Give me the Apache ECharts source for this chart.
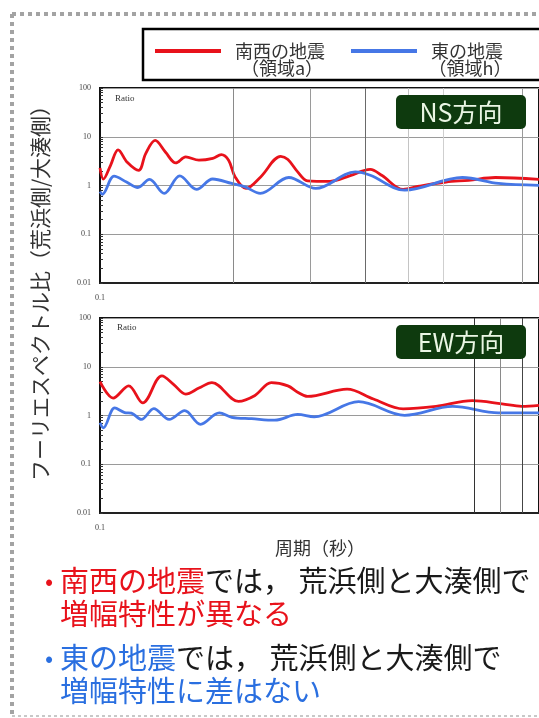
<!DOCTYPE html>
<html><head><meta charset="utf-8">
<script src="https://cdn.jsdelivr.net/npm/echarts@6/dist/echarts.min.js"></script>
<style>html,body{margin:0;padding:0;background:#fff}#c{width:539px;height:718px}</style>
</head><body><div id="c"></div>
<script>
// ---------- data ----------
const seriesNames = ['南西の地震', '東の地震'];
const legendSub = ['（領域a）', '（領域h）'];
const panelLabels = ['NS方向', 'EW方向'];
const xTickLabels = [0.1];
const yTickLabels = [0.01, 0.1, 1, 10, 100];

const nsRedPeriod = [0.1, 0.106, 0.12, 0.1366, 0.16, 0.195, 0.22, 0.259, 0.31, 0.37, 0.439, 0.551, 0.70, 0.811, 0.92, 1.03, 1.24, 1.6, 2.26, 2.56, 3.03, 3.59, 5.32, 7.5, 10.6, 13, 18.7, 24.7, 39.2, 57.9, 91.8, 195];
const nsRedRatio  = [2.3, 1.35, 2.6, 5.4, 3.0, 2.05, 4.5, 8.4, 4.8, 2.9, 3.85, 3.3, 3.6, 4.3, 3.3, 1.5, 0.87, 1.5, 3.95, 3.4, 1.9, 1.25, 1.22, 1.6, 2.15, 1.6, 0.83, 0.97, 1.18, 1.28, 1.46, 1.33];
const nsBluePeriod = [0.1, 0.104, 0.1276, 0.158, 0.192, 0.235, 0.303, 0.396, 0.529, 0.699, 0.971, 1.22, 1.59, 2.6, 4.14, 8.19, 10.6, 19.2, 52.0, 97.1, 195];
const nsBlueRatio  = [0.75, 0.66, 1.55, 1.18, 0.91, 1.33, 0.69, 1.57, 0.83, 1.36, 1.1, 0.94, 0.69, 1.46, 0.87, 1.9, 1.62, 0.8, 1.46, 1.1, 1.01];

const ewRedPeriod = [0.1, 0.1254, 0.164, 0.209, 0.291, 0.359, 0.439, 0.551, 0.69, 1.09, 1.45, 1.92, 2.56, 3.03, 3.59, 7.11, 11.2, 18.7, 33.0, 61.7, 103, 145, 195];
const ewRedRatio  = [4.97, 2.28, 4.06, 1.81, 6.47, 4.25, 2.75, 3.65, 4.73, 1.95, 2.58, 4.73, 4.06, 3.0, 2.46, 3.47, 2.18, 1.37, 1.54, 2.01, 1.73, 1.54, 1.62];
const ewBluePeriod = [0.1, 0.106, 0.129, 0.153, 0.172, 0.204, 0.253, 0.33, 0.431, 0.567, 0.784, 0.971, 1.37, 2.04, 3.03, 4.03, 8.68, 19.2, 43.9, 97.1, 195];
const ewBlueRatio  = [0.71, 0.56, 1.43, 1.15, 1.12, 0.83, 1.39, 0.83, 1.26, 0.66, 1.13, 0.92, 0.86, 0.8, 1.05, 0.94, 1.92, 1.01, 1.54, 1.13, 1.13];

const nsVLines = [1, 3.74, 9.7, 20.6, 37.4, 145];
const ewVLines = [63.8, 99.5, 146];

// ---------- styles ----------
const RED = '#e8121b', BLUE = '#4677e6', TXTBLUE = '#2a6fe0';
const nsVLineColors = ['#8a8a8a', '#9a9a9a', '#6a6a6a', '#c4c4c4', '#cfcfcf', '#9a9a9a'];
const ewVLineColors = ['#333333', '#8a8a8a', '#444444'];
const SERIF = '"Liberation Serif", "DejaVu Serif", serif';
const JP = '"Noto Sans CJK JP", sans-serif';

const pairs = (xs, ys) => xs.map((x, i) => [x, ys[i]]);
const minorTicks = [];
for (let e = -2; e < 2; e++) for (let m = 1; m <= 9; m++) minorTicks.push(+(m * Math.pow(10, e)).toPrecision(3));
minorTicks.push(100);

const grids = [
  {left: 100, right: -6, top: 88, height: 195},
  {left: 100, right: -6, top: 318, height: 195}
].map(g => Object.assign(g, {show: true, borderColor: '#111', borderWidth: 2, backgroundColor: 'transparent'}));

const xAxes = [0, 1].map(i => ({
  type: 'log', logBase: 10, gridIndex: i, min: 0.1, max: 195,
  axisLine: {show: true, lineStyle: {color: '#222', width: 2}},
  axisTick: {show: false},
  splitLine: {show: false},
  axisLabel: {customValues: xTickLabels, formatter: v => String(v), margin: 11, fontFamily: SERIF, fontSize: 8, color: '#444'}
}));
const yAxes = [];
[0, 1].forEach(i => {
  yAxes.push({
    type: 'log', logBase: 10, gridIndex: i, min: 0.01, max: 100,
    axisLine: {show: true, lineStyle: {color: '#111', width: 2}},
    axisTick: {show: false},
    splitLine: {show: true, lineStyle: {color: '#9a9a9a', width: 1}},
    axisLabel: {customValues: yTickLabels, formatter: v => String(v), margin: 9, fontFamily: SERIF, fontSize: 8, color: '#444'}
  });
  yAxes.push({
    type: 'log', logBase: 10, gridIndex: i, min: 0.01, max: 100, position: 'left',
    axisLine: {show: false},
    axisTick: {show: true, inside: true, length: 3, customValues: minorTicks, lineStyle: {color: '#333'}},
    splitLine: {show: false},
    axisLabel: {show: false}
  });
});

function vlines(vals, colors) {
  return {
    silent: true, symbol: ['none', 'none'], label: {show: false},
    lineStyle: {type: 'solid', width: 1},
    data: vals.map((v, i) => ({xAxis: v, lineStyle: {color: colors[i], type: 'solid', width: 1}}))
  };
}
const lineBase = {type: 'line', smooth: 0.35, showSymbol: false, symbol: 'none', lineStyle: {width: 2.8}};
const series = [
  Object.assign({}, lineBase, {name: seriesNames[0], xAxisIndex: 0, yAxisIndex: 0, color: RED, data: pairs(nsRedPeriod, nsRedRatio), markLine: vlines(nsVLines, nsVLineColors), z: 3}),
  Object.assign({}, lineBase, {name: seriesNames[1], xAxisIndex: 0, yAxisIndex: 0, color: BLUE, data: pairs(nsBluePeriod, nsBlueRatio), z: 4}),
  Object.assign({}, lineBase, {name: seriesNames[0], xAxisIndex: 1, yAxisIndex: 2, color: RED, data: pairs(ewRedPeriod, ewRedRatio), markLine: vlines(ewVLines, ewVLineColors), z: 3}),
  Object.assign({}, lineBase, {name: seriesNames[1], xAxisIndex: 1, yAxisIndex: 2, color: BLUE, data: pairs(ewBluePeriod, ewBlueRatio), z: 4})
];

const BF = '29px ' + JP;
const dash = {lineDash: [4, 4], lineWidth: 4, stroke: '#a3a3a3'};
const graphic = [
  {type: 'line', shape: {x1: 12, y1: 14, x2: 539, y2: 14}, style: dash, silent: true},
  {type: 'line', shape: {x1: 12, y1: 14, x2: 12, y2: 718}, style: dash, silent: true},
  {type: 'line', shape: {x1: 12, y1: 716, x2: 539, y2: 716}, style: {lineDash: [3, 3], lineWidth: 2, stroke: '#c8c8c8'}, silent: true},
  // legend frame
  {type: 'rect', shape: {x: 143, y: 29, width: 420, height: 51}, style: {fill: 'transparent', stroke: '#000', lineWidth: 2.5}, silent: true},
  {type: 'text', x: 282, y: 68, style: {text: legendSub[0], font: '18px ' + JP, fill: '#333', align: 'center', verticalAlign: 'middle'}},
  {type: 'text', x: 470, y: 68, style: {text: legendSub[1], font: '18px ' + JP, fill: '#333', align: 'center', verticalAlign: 'middle'}},
  // panel labels
  {type: 'rect', shape: {x: 396, y: 95, width: 130, height: 34, r: 5}, style: {fill: '#0e3a0e'}, z: 10},
  {type: 'text', x: 461, y: 112, style: {text: panelLabels[0], font: '25px ' + JP, fill: '#eaf6e4', align: 'center', verticalAlign: 'middle'}, z: 11},
  {type: 'rect', shape: {x: 396, y: 325, width: 130, height: 34, r: 5}, style: {fill: '#0e3a0e'}, z: 10},
  {type: 'text', x: 461, y: 342, style: {text: panelLabels[1], font: '25px ' + JP, fill: '#eaf6e4', align: 'center', verticalAlign: 'middle'}, z: 11},
  // Ratio labels
  {type: 'text', x: 115, y: 99, style: {text: 'Ratio', font: '9px ' + SERIF, fill: '#333', verticalAlign: 'middle'}, z: 10},
  {type: 'text', x: 117, y: 328, style: {text: 'Ratio', font: '9px ' + SERIF, fill: '#333', verticalAlign: 'middle'}, z: 10},
  // axis titles
  {type: 'text', x: 40, y: 288, rotation: Math.PI / 2, style: {text: 'フーリエスペクトル比（荒浜側/大湊側）', font: '21px ' + JP, fill: '#333', align: 'center', verticalAlign: 'middle'}},
  {type: 'text', x: 320, y: 548, style: {text: '周期（秒）', font: '18px ' + JP, fill: '#333', align: 'center', verticalAlign: 'middle'}},
  // bullets
  {type: 'text', x: 45, y: 581, style: {text: '•', font: '24px ' + JP, fill: RED, verticalAlign: 'middle'}},
  {type: 'text', x: 60, y: 581, style: {text: '{r|南西の地震}{k|では， 荒浜側と大湊側で}', font: BF, verticalAlign: 'middle', rich: {r: {fill: RED, font: BF}, k: {fill: '#1a1a1a', font: BF}}}},
  {type: 'text', x: 60, y: 614, style: {text: '増幅特性が異なる', font: BF, fill: RED, verticalAlign: 'middle'}},
  {type: 'text', x: 45, y: 658, style: {text: '•', font: '24px ' + JP, fill: TXTBLUE, verticalAlign: 'middle'}},
  {type: 'text', x: 60, y: 658, style: {text: '{b|東の地震}{k|では， 荒浜側と大湊側で}', font: BF, verticalAlign: 'middle', rich: {b: {fill: TXTBLUE, font: BF}, k: {fill: '#1a1a1a', font: BF}}}},
  {type: 'text', x: 60, y: 691, style: {text: '増幅特性に差はない', font: BF, fill: TXTBLUE, verticalAlign: 'middle'}}
];

const chart = echarts.init(document.getElementById('c'), null, {renderer: 'canvas'});
chart.setOption({
  animation: false,
  backgroundColor: '#fff',
  legend: {
    data: seriesNames, left: 150, top: 37, itemWidth: 66, itemHeight: 4, itemGap: 26, icon: 'rect',
    textStyle: {fontFamily: JP, fontSize: 18, color: '#333', padding: [0, 0, 0, 9]},
    selectedMode: false
  },
  grid: grids,
  xAxis: xAxes,
  yAxis: yAxes,
  series: series,
  graphic: graphic
});
</script>
</body></html>
